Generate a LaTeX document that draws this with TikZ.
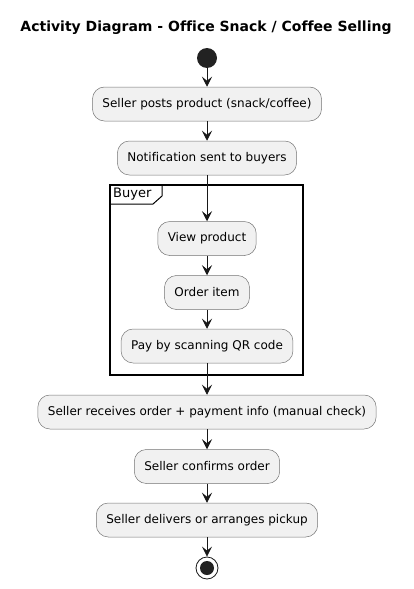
\documentclass[tikz,border=0pt]{standalone}
\usepackage{fontspec}
\setmainfont{DejaVu Sans}[Ligatures=NoCommon]
\usepackage{tikz}
\usetikzlibrary{arrows.meta,shapes,positioning}
\usepackage{xcolor}
\definecolor{umlfill}{RGB}{241,241,241}
\definecolor{umlline}{RGB}{24,24,24}
\definecolor{umldot}{RGB}{34,34,34}
\tikzstyle{arrow} = [line width=0.8pt,-{Stealth[length=10pt,width=10pt,inset=4pt]},color=umlline]
\tikzstyle{activity} = [rectangle, rounded corners=12pt, minimum height=34pt, inner xsep=10pt, text centered, draw=umlline!60, fill=umlfill, line width=0.5pt, font=\fontsize{12}{14}\selectfont]

\begin{document}
\begin{tikzpicture}
\useasboundingbox (0,0) rectangle (413pt,-589pt);
% Title
\node (title) at (206pt,-28pt) {\fontsize{14}{16}\selectfont\bfseries Activity Diagram - Office Snack / Coffee Selling};

% Seller steps
\node (start) [circle, fill=umldot, minimum size=20pt, inner sep=0pt] at (207pt,-58pt) {};
\node (posts) [activity, below of=start, node distance=46pt] {Seller posts product (snack/coffee)};
\node (notify) [activity, below of=posts, node distance=54pt] {Notification sent to buyers};

% Buyer partition
\node (view) [activity, below of=notify, node distance=80.5pt] {View product};
\node (order) [activity, below of=view, node distance=54pt] {Order item};
\node (pay) [activity, below of=order, node distance=53.5pt] {Pay by scanning QR code};
\draw[line width=1.3pt] (110pt,-185pt) rectangle (303pt,-375pt);
\draw[line width=1pt] (110pt,-204pt) -- (153pt,-204pt) -- (162pt,-196pt) -- (162pt,-185pt);
\node (buyer) [anchor=north west, inner sep=0pt, font=\fontsize{13}{15}\selectfont] at (113pt,-187.5pt) {Buyer};

% Seller again
\node (receive) [activity, below of=pay, node distance=66pt] {Seller receives order + payment info (manual check)};
\node (confirm) [activity, below of=receive, node distance=54.5pt] {Seller confirms order};
\node (deliver) [activity, below of=confirm, node distance=53.5pt] {Seller delivers or arranges pickup};
\node (stop) [circle, draw=umlline, line width=0.8pt, fill=white, minimum size=22pt, inner sep=0pt, below of=deliver, node distance=48pt] {};
\fill[umldot] (stop) circle (7pt);

% Flow
\draw[arrow] (start) -- (posts);
\draw[arrow] (posts) -- (notify);
\draw[arrow] (notify) -- (view);
\draw[arrow] (view) -- (order);
\draw[arrow] (order) -- (pay);
\draw[arrow] (pay) -- (receive);
\draw[arrow] (receive) -- (confirm);
\draw[arrow] (confirm) -- (deliver);
\draw[arrow] (deliver) -- (stop);
\end{tikzpicture}
\end{document}
